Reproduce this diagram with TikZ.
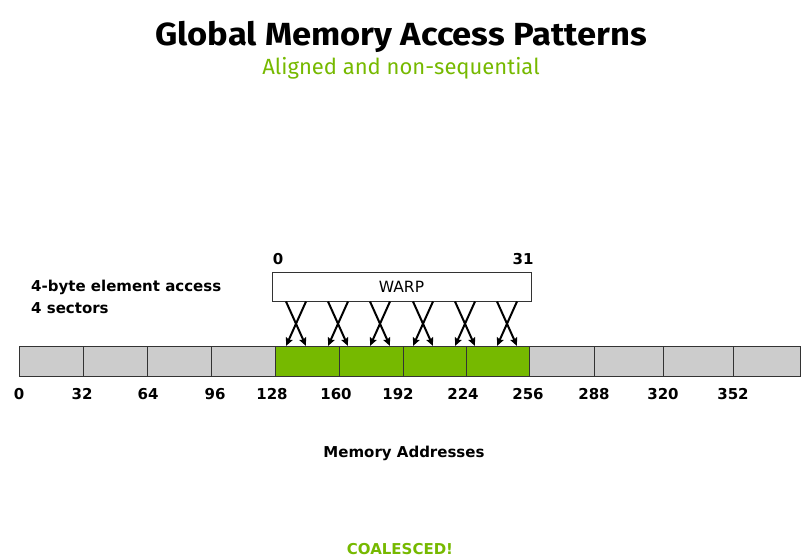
\documentclass[tikz,border=0pt]{standalone}
\usepackage{fontspec}
\setmainfont{DejaVu Sans}
\newfontfamily\titlefont{Fira Sans}
\usetikzlibrary{arrows.meta}
\definecolor{nvgreen}{HTML}{76B900}
\definecolor{cellgray}{HTML}{CCCCCC}
\definecolor{edgegray}{HTML}{333333}
\tikzset{
  cellbox/.style={draw=edgegray, line width=0.9pt, fill=cellgray},
  greencell/.style={draw=edgegray, line width=0.9pt, fill=nvgreen},
  bodyfont/.style={font=\fontsize{15}{17}\selectfont\bfseries},
  addr/.style={bodyfont, anchor=base},
  lbl/.style={bodyfont, anchor=base west, inner sep=0pt},
  warpbox/.style={draw=edgegray, line width=0.9pt, fill=white, minimum width=259pt, minimum height=29pt, inner sep=0pt, font=\fontsize{15.5}{17}\selectfont},
  xarrow/.style={line width=2pt, -{Stealth[length=8pt,width=7pt,inset=1pt]}}
}
\begin{document}
\begin{tikzpicture}[x=1pt,y=-1pt]
\useasboundingbox (0,0) rectangle (812,557);
% title
\node[font=\titlefont\fontsize{32}{36}\selectfont\bfseries, anchor=base, xscale=1.08] (title) at (401,45) {Global Memory Access Patterns};
\node[font=\titlefont\fontsize{22}{25}\selectfont, text=nvgreen, anchor=base] (sub) at (401,74) {Aligned and non-sequential};
% side labels
\node[lbl] (l1) at (31,291) {4-byte element access};
\node[lbl] (l2) at (31,313) {4 sectors};
% memory cells
\foreach \a/\b in {19/83,83/147,147/211,211/275,529/594,594/663,663/733,733/800}{
  \path[cellbox] (\a,346) rectangle (\b,376);
}
\foreach \a/\b in {275/339,339/403,403/466,466/529}{
  \path[greencell] (\a,346) rectangle (\b,376);
}
% addresses
\foreach \x/\t in {19/0,82/32,148/64,215/96,272/128,336/160,398/192,463/224,528/256,594/288,663/320,733/352}{
  \node[addr] at (\x,399) {\t};
}
\node[bodyfont, anchor=base] (memaddr) at (404,457) {Memory Addresses};
\node[bodyfont, text=nvgreen, anchor=base] (coal) at (400,554) {COALESCED!};
% warp
\node[warpbox] (warp) at (401.5,287) {WARP};
\node[addr] (w0) at (278,264) {0};
\node[addr] (w31) at (523,264) {31};
% arrows
\foreach \c [count=\i] in {296,338,380,423,465,507}{
  \coordinate (tl\i) at (\c-10,301.5);
  \coordinate (tr\i) at (\c+10,301.5);
  \coordinate (bl\i) at (\c-10,346);
  \coordinate (br\i) at (\c+10,346);
  \draw[xarrow] (tl\i) -- (br\i);
  \draw[xarrow] (tr\i) -- (bl\i);
}
\end{tikzpicture}
\end{document}
